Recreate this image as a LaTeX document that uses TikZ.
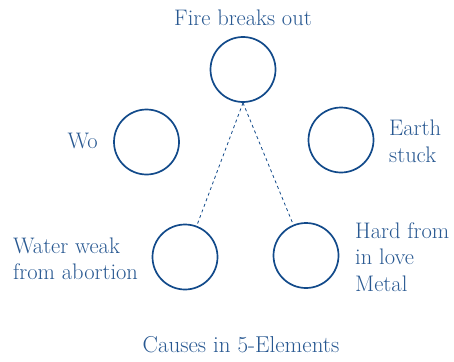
\documentclass[tikz,border=0pt]{standalone}
\definecolor{elblue}{RGB}{18,74,138}
\definecolor{txtblue}{RGB}{40,88,145}
\begin{document}
\begin{tikzpicture}[x=1pt,y=-1pt,
  elem/.style={circle,draw=elblue,line width=1.7pt,minimum size=65pt,inner sep=0pt},
  lbl/.style={text=txtblue,font=\fontsize{22.5}{26.5}\selectfont,inner sep=0pt,align=left},
  link/.style={draw=elblue,line width=0.8pt,dash pattern=on 3pt off 3pt}]
\useasboundingbox (0,0) rectangle (454,361);
\node[elem] (fire) at (243,69.5) {};
\node[elem] (wood) at (146.5,142) {};
\node[elem] (earth) at (341,140) {};
\node[elem] (water) at (185,257) {};
\node[elem] (metal) at (306,255.5) {};
\node[lbl,anchor=center] (tfire) at (243,18) {Fire breaks out};
\node[lbl,anchor=east] (twood) at (98,141) {Wo};
\node[lbl,anchor=west] (tearth) at (389,141.5) {Earth\\stuck};
\node[lbl,anchor=west] (twater) at (13,259) {Water weak\\from abortion};
\node[lbl,anchor=west] (tmetal) at (355,257) {Hard from\\in love\\Metal};
\node[lbl,anchor=center,font=\fontsize{23}{27}\selectfont] (title) at (241,345) {Causes in 5-Elements};
\draw[link] (fire.south) -- (water);
\draw[link] (fire.south) -- (metal);
\end{tikzpicture}
\end{document}
